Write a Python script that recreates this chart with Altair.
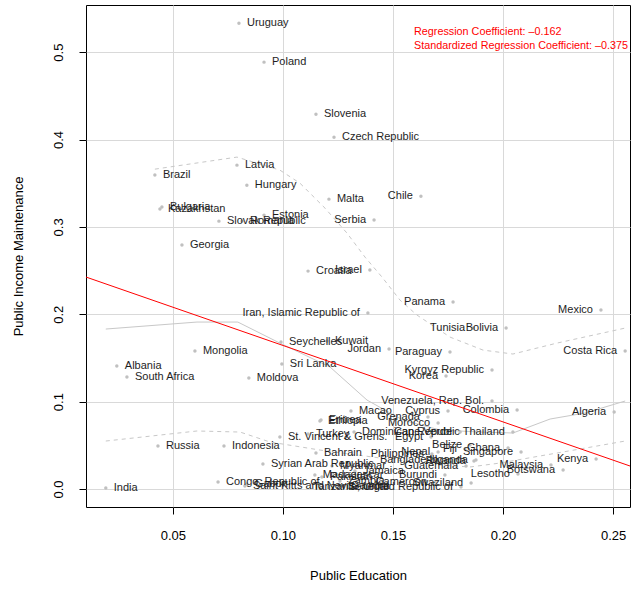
import altair as alt
import numpy as np
import pandas as pd

FONT = "Liberation Sans"

# Country observations: public education vs public income maintenance
countries = [
    "Uruguay", "Poland", "Slovenia", "Czech Republic", "Latvia", "Brazil", "Hungary",
    "Malta", "Chile", "Serbia", "Bulgaria", "Kazakhstan", "Slovak Republic", "Estonia",
    "Romania", "Georgia", "Croatia", "Israel", "Iran, Islamic Republic of", "Panama",
    "Mexico", "Bolivia", "Tunisia", "Costa Rica", "Paraguay", "Jordan", "Kuwait",
    "Seychelles", "Sri Lanka", "Mongolia", "Albania", "South Africa", "Moldova",
    "Kyrgyz Republic", "Korea", "Venezuela, Rep. Bol.", "Colombia", "Algeria", "Cyprus",
    "Macao", "Grenada", "Ethiopia", "Eritrea", "Morocco", "Dominican Republic",
    "Cape Verde", "Turkey", "St. Vincent & Grens.", "Egypt", "Thailand", "Indonesia",
    "Russia", "Bahrain", "Philippines", "Nepal", "Belize", "Fiji", "Ghana", "Singapore",
    "Bangladesh", "Uganda", "Rwanda", "Guatemala", "Syrian Arab Republic", "Myanmar",
    "Malaysia", "Kenya", "Botswana", "Lesotho", "Jamaica", "Madagascar", "Pakistan",
    "Burundi", "Cameroon", "Zambia", "Congo, Republic of", "Saint Kitts and Nevis",
    "Gabon", "Senegal", "Gambia", "Tanzania, United Republic of", "Swaziland", "India",
]
public_education = [
    0.0800, 0.0914, 0.1150, 0.1232, 0.0791, 0.0418, 0.0836,
    0.1209, 0.1627, 0.1414, 0.0450, 0.0441, 0.0709, 0.0914,
    0.0814, 0.0541, 0.1114, 0.1395, 0.1386, 0.1773,
    0.2445, 0.2014, 0.1864, 0.2555, 0.1759, 0.1482, 0.1200,
    0.0991, 0.0995, 0.0600, 0.0245, 0.0291, 0.0845,
    0.1950, 0.1741, 0.1950, 0.2064, 0.2505, 0.1750,
    0.1309, 0.1659, 0.1168, 0.1173, 0.1705, 0.1323,
    0.1805, 0.1114, 0.0986, 0.1673, 0.2045, 0.0732,
    0.0432, 0.1150, 0.1677, 0.1705, 0.1850, 0.1827, 0.2023, 0.2082,
    0.1741, 0.1877, 0.1868, 0.1832, 0.0909, 0.1223,
    0.2218, 0.2423, 0.2273, 0.2068, 0.1327, 0.1145, 0.1177,
    0.1736, 0.1691, 0.1259, 0.0705, 0.0827,
    0.0836, 0.1259, 0.1273, 0.1809, 0.1855, 0.0195,
]
public_income = [
    0.5330, 0.4886, 0.4290, 0.4027, 0.3707, 0.3593, 0.3478,
    0.3318, 0.3352, 0.3078, 0.3227, 0.3204, 0.3066, 0.3135,
    0.3066, 0.2792, 0.2494, 0.2506, 0.2014, 0.2140,
    0.2048, 0.1842, 0.1842, 0.1579, 0.1568, 0.1602, 0.1693,
    0.1682, 0.1430, 0.1579, 0.1407, 0.1281, 0.1270,
    0.1362, 0.1293, 0.1007, 0.0904, 0.0881, 0.0892,
    0.0892, 0.0824, 0.0778, 0.0789, 0.0755, 0.0652,
    0.0652, 0.0629, 0.0595, 0.0595, 0.0652, 0.0492,
    0.0492, 0.0412, 0.0400, 0.0423, 0.0503, 0.0458, 0.0469, 0.0423,
    0.0332, 0.0332, 0.0320, 0.0263, 0.0286, 0.0263,
    0.0275, 0.0343, 0.0217, 0.0172, 0.0206, 0.0160, 0.0137,
    0.0160, 0.0080, 0.0092, 0.0080, 0.0034,
    0.0057, 0.0023, 0.0034, 0.0023, 0.0069, 0.0011,
]

# Nonparametric smooth and its conditional spread lines
smooth_x = [0.0195, 0.0609, 0.0795, 0.0986, 0.1214, 0.1382, 0.1545, 0.1714,
            0.1895, 0.2045, 0.2214, 0.2373, 0.2555]
smooth_y = [0.1831, 0.1911, 0.1911, 0.1670, 0.1396, 0.1018, 0.0789, 0.0675,
            0.0652, 0.0641, 0.0801, 0.0870, 0.1007]
upper_x = [0.0418, 0.0791, 0.0986, 0.1077, 0.1191, 0.1291, 0.1373, 0.1450,
           0.1532, 0.1609, 0.1759, 0.1909, 0.2045, 0.2245, 0.2555]
upper_y = [0.3661, 0.3799, 0.3650, 0.3501, 0.3215, 0.2929, 0.2654, 0.2426,
           0.2162, 0.1991, 0.1739, 0.1590, 0.1545, 0.1670, 0.1842]
lower_x = [0.0195, 0.0609, 0.0805, 0.0941, 0.1168, 0.1441, 0.1714, 0.1850,
           0.1986, 0.2168, 0.2350, 0.2555]
lower_y = [0.0549, 0.0664, 0.0652, 0.0538, 0.0446, 0.0355, 0.0275, 0.0252,
           0.0297, 0.0378, 0.0458, 0.0549]

# Least-squares line
reg_intercept = 0.2518
reg_slope = -0.875

# Coefficient notes shown in the corner
note_coef = "Regression Coefficient: \u20130.162"
note_std = "Standardized Regression Coefficient: \u20130.375"

x_domain = [0.0105, 0.2577]
y_domain = [-0.0206, 0.554]

df = pd.DataFrame({"country": countries, "edu": public_education, "inc": public_income})
df["side"] = np.where(df["edu"] > 0.135, "left", "right")

smooth_df = pd.concat([
    pd.DataFrame({"edu": smooth_x, "inc": smooth_y, "curve": "smooth"}),
    pd.DataFrame({"edu": upper_x, "inc": upper_y, "curve": "upper"}),
    pd.DataFrame({"edu": lower_x, "inc": lower_y, "curve": "lower"}),
])
reg_df = pd.DataFrame({"edu": x_domain})
reg_df["inc"] = reg_intercept + reg_slope * reg_df["edu"]

xscale = alt.Scale(domain=x_domain, nice=False, zero=False)
yscale = alt.Scale(domain=y_domain, nice=False, zero=False)

x_axis = alt.Axis(values=[0.05, 0.10, 0.15, 0.20, 0.25], format=".2f",
                  title="Public Education", grid=True, labelPadding=15,
                  titlePadding=27)
y_axis = alt.Axis(values=[0.0, 0.1, 0.2, 0.3, 0.4, 0.5], format=".1f",
                  title="Public Income Maintenance", grid=True, labelAngle=270,
                  labelAlign="center", labelBaseline="bottom", labelPadding=14,
                  titlePadding=27)

base = alt.Chart(df)

points = base.mark_circle(size=12, color="#c0c0c0", opacity=1).encode(
    x=alt.X("edu:Q", scale=xscale, axis=x_axis),
    y=alt.Y("inc:Q", scale=yscale, axis=y_axis),
)

text_style = dict(fontSize=11, font=FONT, color="#1e1e1e", baseline="middle")
labels_right = base.transform_filter(alt.datum.side == "right").mark_text(
    align="left", dx=8, **text_style
).encode(x=alt.X("edu:Q", scale=xscale), y=alt.Y("inc:Q", scale=yscale), text="country:N")
labels_left = base.transform_filter(alt.datum.side == "left").mark_text(
    align="right", dx=-8, **text_style
).encode(x=alt.X("edu:Q", scale=xscale), y=alt.Y("inc:Q", scale=yscale), text="country:N")

smooth_line = alt.Chart(smooth_df).transform_filter(alt.datum.curve == "smooth").mark_line(
    color="#c8c8c8", strokeWidth=1
).encode(x=alt.X("edu:Q", scale=xscale), y=alt.Y("inc:Q", scale=yscale))

spread_lines = alt.Chart(smooth_df).transform_filter(alt.datum.curve != "smooth").mark_line(
    color="#c8c8c8", strokeWidth=1, strokeDash=[4, 4]
).encode(x=alt.X("edu:Q", scale=xscale), y=alt.Y("inc:Q", scale=yscale),
         detail="curve:N")

reg_line = alt.Chart(reg_df).mark_line(color="#ff0000", strokeWidth=1, clip=True).encode(
    x=alt.X("edu:Q", scale=xscale), y=alt.Y("inc:Q", scale=yscale)
)

note_style = dict(align="left", baseline="middle", fontSize=10.8, font=FONT, color="#ff0000")
note1 = alt.Chart(pd.DataFrame({"note": [note_coef]})).mark_text(**note_style).encode(
    x=alt.value(328), y=alt.value(27), text="note:N"
)
note2 = alt.Chart(pd.DataFrame({"note": [note_std]})).mark_text(**note_style).encode(
    x=alt.value(328), y=alt.value(41), text="note:N"
)

chart = alt.layer(
    smooth_line, spread_lines, points, labels_right, labels_left, reg_line, note1, note2
).properties(
    width=544, height=502,
    autosize=alt.AutoSizeParams(type="none"),
    padding={"left": 86, "top": 5, "right": 9, "bottom": 83},
    background="white",
).configure_view(
    stroke="black", strokeWidth=1
).configure_axis(
    domain=False, tickColor="black", tickSize=7, ticks=True,
    gridColor="#d9d9d9", gridWidth=1,
    labelFont=FONT, labelFontSize=13, labelColor="black",
    titleFont=FONT, titleFontSize=13, titleFontWeight="normal", titleColor="black",
)

chart.save("out.html", embed_options={"renderer": "svg", "actions": False})
